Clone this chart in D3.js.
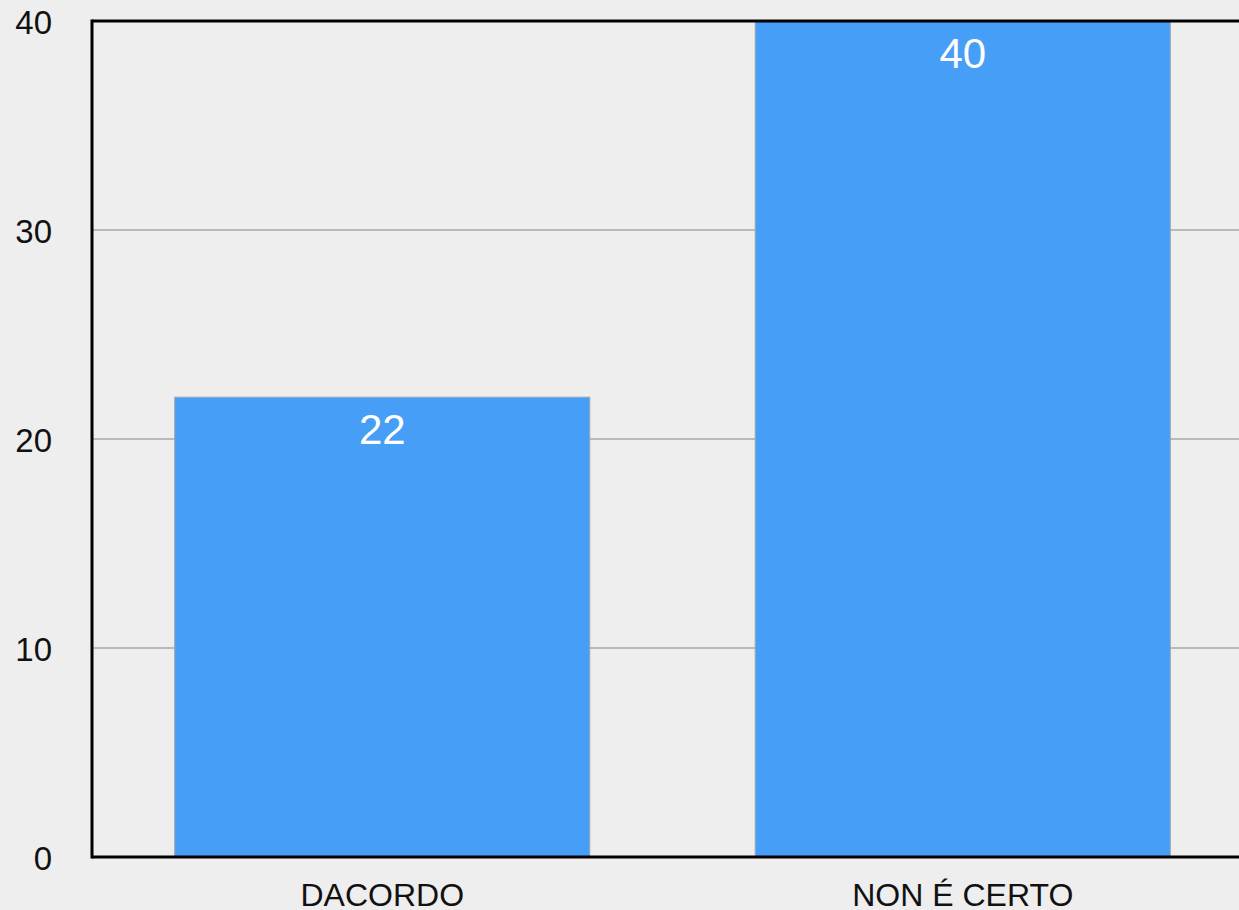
<!DOCTYPE html>
<html>
<head>
<meta charset="utf-8">
<script src="https://cdn.jsdelivr.net/npm/d3@7"></script>
<style>
  html, body { margin: 0; padding: 0; background: #eeeeee; overflow: hidden; }
  text { font-family: "Liberation Sans", Arial, Helvetica, sans-serif; }
</style>
</head>
<body>
<div id="chart"></div>
<script>
var categories = ["DACORDO", "NON É CERTO"];
var values = [22, 40];
var yTicks = [0, 10, 20, 30, 40];

var margin = {top: 21, right: -14, bottom: 53, left: 92},
    width = 1239 - margin.left - margin.right,
    height = 910 - margin.top - margin.bottom;

var svg = d3.select("#chart")
    .append("svg")
    .attr("width", 1239)
    .attr("height", 910)
    .append("g")
    .attr("transform", "translate(" + margin.left + "," + margin.top + ")");

var x = d3.scaleBand()
    .domain(categories)
    .range([0, width])
    .paddingInner(0.285)
    .paddingOuter(0.1425);

var y = d3.scaleLinear()
    .domain([0, 40])
    .range([height, 0]);

// gridlines
svg.selectAll(".grid")
    .data(yTicks.filter(function(d) { return d > 0 && d < 40; }))
    .enter()
    .append("line")
    .attr("x1", 0)
    .attr("x2", width)
    .attr("y1", function(d) { return y(d); })
    .attr("y2", function(d) { return y(d); })
    .attr("stroke", "#a8a8a8")
    .attr("stroke-width", 1.5);

// bars
svg.selectAll(".bar")
    .data(values)
    .enter()
    .append("rect")
    .attr("x", function(d, i) { return x(categories[i]); })
    .attr("y", function(d) { return y(d); })
    .attr("width", x.bandwidth())
    .attr("height", function(d) { return height - y(d); })
    .attr("fill", "#479ef6")
    .attr("stroke", "#9aa4b0")
    .attr("stroke-width", 1);

// value labels
svg.selectAll(".val")
    .data(values)
    .enter()
    .append("text")
    .attr("x", function(d, i) { return x(categories[i]) + x.bandwidth() / 2; })
    .attr("y", function(d) { return y(d) + 47; })
    .attr("text-anchor", "middle")
    .attr("fill", "white")
    .style("font-size", "42px")
    .text(function(d) { return d; });

// frame lines
svg.append("line")
    .attr("x1", 0).attr("x2", width)
    .attr("y1", 0).attr("y2", 0)
    .attr("stroke", "#000").attr("stroke-width", 3);
svg.append("line")
    .attr("x1", 0).attr("x2", width)
    .attr("y1", height).attr("y2", height)
    .attr("stroke", "#000").attr("stroke-width", 3);
svg.append("line")
    .attr("x1", 0).attr("x2", 0)
    .attr("y1", -1.5).attr("y2", height + 1.5)
    .attr("stroke", "#000").attr("stroke-width", 3);

// y tick labels
svg.selectAll(".ytick")
    .data(yTicks)
    .enter()
    .append("text")
    .attr("x", -40)
    .attr("y", function(d) { return y(d) + 13; })
    .attr("text-anchor", "end")
    .attr("fill", "#111")
    .style("font-size", "33px")
    .text(function(d) { return d; });

// category labels
svg.selectAll(".xlab")
    .data(categories)
    .enter()
    .append("text")
    .attr("x", function(d) { return x(d) + x.bandwidth() / 2; })
    .attr("y", height + 49)
    .attr("text-anchor", "middle")
    .attr("fill", "#111")
    .style("font-size", "32px")
    .text(function(d) { return d; });
</script>
</body>
</html>
